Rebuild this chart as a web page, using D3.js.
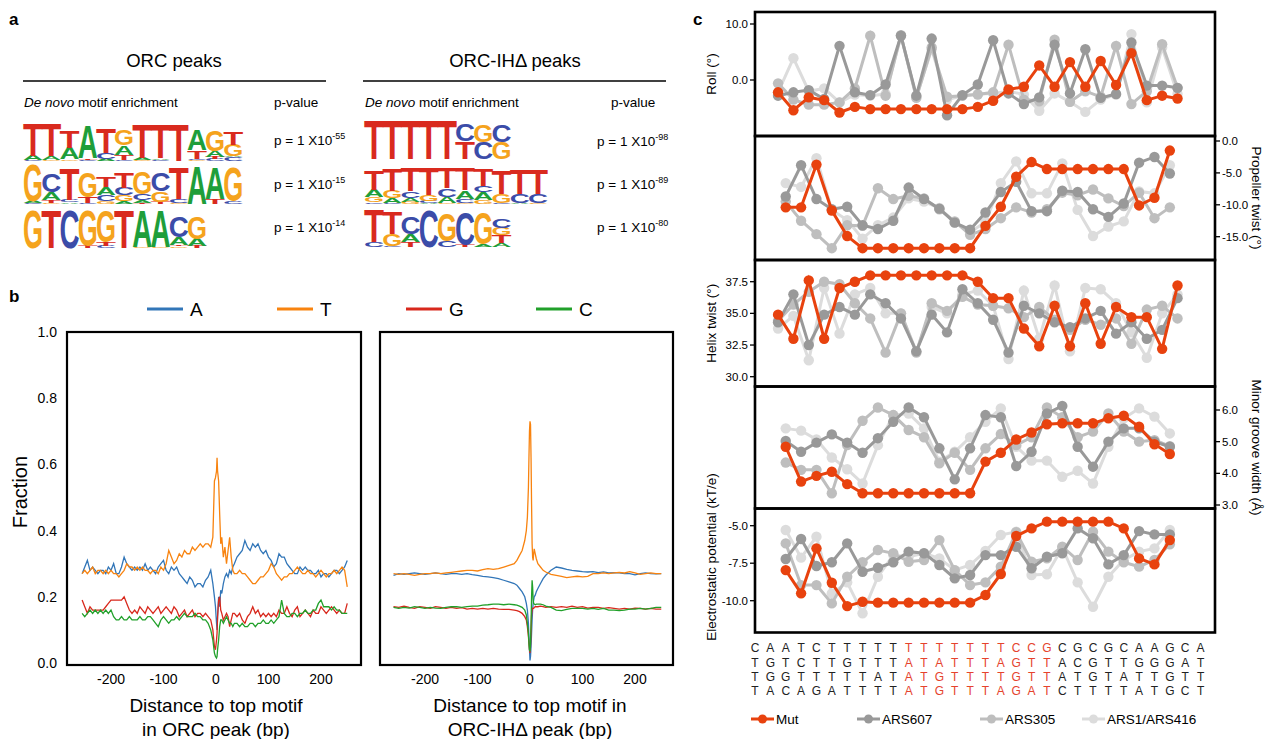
<!DOCTYPE html>
<html>
<head>
<meta charset="utf-8">
<script src="https://cdn.jsdelivr.net/npm/d3@7"></script>
<style>
body { margin: 0; background: #fff; }
svg { display: block; font-family: "Liberation Sans", Arial, sans-serif; }
</style>
</head>
<body>
<svg id="fig" width="1274" height="739"></svg>
<script>
// ---------- panel a: motif logos ----------
const logoColor = { A: "#1e9e3a", C: "#3b4ca8", G: "#f5a31d", T: "#d92a1e" };

const orcLogo1 = [
    [["C", 0.04], ["A", 0.22], ["T", 1.6]],
    [["G", 0.04], ["A", 0.18], ["T", 1.6]],
    [["G", 0.08], ["A", 0.55], ["T", 0.85]],
    [["C", 0.04], ["T", 0.08], ["A", 1.6]],
    [["A", 0.1], ["C", 0.3], ["T", 1.2]],
    [["C", 0.05], ["T", 0.25], ["A", 0.45], ["G", 0.75]],
    [["G", 0.04], ["A", 0.1], ["T", 1.65]],
    [["C", 0.04], ["A", 0.08], ["T", 1.65]],
    [["T", 1.75]],
    [["G", 0.06], ["C", 0.05], ["T", 0.4], ["A", 1.0]],
    [["C", 0.1], ["T", 0.1], ["A", 0.3], ["G", 1.0]],
    [["C", 0.18], ["A", 0.05], ["G", 0.55], ["T", 0.65]]
];
const orcLogo2 = [
    [["C", 0.05], ["A", 0.1], ["G", 1.75]],
    [["G", 0.05], ["T", 0.15], ["A", 0.35], ["C", 0.9]],
    [["A", 0.08], ["C", 0.1], ["T", 1.5]],
    [["C", 0.05], ["T", 0.3], ["G", 1.2]],
    [["G", 0.12], ["C", 0.3], ["A", 0.4], ["T", 0.5]],
    [["A", 0.12], ["G", 0.3], ["C", 0.35], ["T", 0.75]],
    [["T", 0.05], ["A", 0.15], ["C", 0.3], ["G", 1.05]],
    [["T", 0.1], ["G", 0.5], ["C", 0.9]],
    [["G", 0.05], ["C", 0.2], ["T", 1.5]],
    [["A", 1.85]],
    [["T", 0.25], ["A", 1.5]],
    [["C", 0.12], ["G", 1.65]]
];
const orcLogo3 = [
    [["G", 1.85]],
    [["T", 1.85]],
    [["C", 1.85]],
    [["T", 0.1], ["G", 1.7]],
    [["C", 0.1], ["T", 0.18], ["G", 1.5]],
    [["T", 1.85]],
    [["G", 0.05], ["A", 1.75]],
    [["G", 0.05], ["A", 1.75]],
    [["G", 0.08], ["T", 0.08], ["A", 0.35], ["C", 1.0]],
    [["T", 0.1], ["A", 0.35], ["G", 1.1]]
];
const ihLogo1 = [
    [["T", 1.9]], [["T", 1.9]], [["T", 1.9]], [["T", 1.9]], [["T", 1.9]],
    [["T", 0.85], ["C", 0.85]],
    [["C", 0.8], ["G", 0.85]],
    [["G", 0.8], ["C", 0.85]]
];
const ihLogo2 = [
    [["C", 0.08], ["G", 0.25], ["A", 0.35], ["T", 0.95]],
    [["C", 0.05], ["A", 0.22], ["G", 0.35], ["T", 1.1]],
    [["G", 0.1], ["A", 0.2], ["C", 0.3], ["T", 1.15]],
    [["A", 0.05], ["C", 0.1], ["G", 0.3], ["T", 1.3]],
    [["G", 0.05], ["A", 0.3], ["C", 0.4], ["T", 1.0]],
    [["G", 0.05], ["C", 0.2], ["A", 0.4], ["T", 1.05]],
    [["G", 0.2], ["A", 0.35], ["C", 0.3], ["T", 0.85]],
    [["C", 0.05], ["G", 0.45], ["T", 1.15]],
    [["A", 0.05], ["C", 0.45], ["T", 1.2]],
    [["G", 0.05], ["C", 0.45], ["T", 1.2]]
];
const ihLogo3 = [
    [["C", 0.22], ["T", 1.6]],
    [["C", 0.05], ["G", 0.55], ["T", 1.1]],
    [["T", 0.25], ["A", 0.35], ["C", 0.85]],
    [["C", 1.75]],
    [["C", 0.3], ["G", 1.3]],
    [["T", 0.1], ["C", 1.6]],
    [["A", 0.15], ["G", 1.5]],
    [["A", 0.2], ["T", 0.35], ["G", 0.35], ["C", 0.45]]
];
const orcPvals = ["-55", "-15", "-14"];
const ihPvals = ["-98", "-89", "-80"];

// ---------- panel b: base composition ----------
const baseNames = ["A", "T", "G", "C"];
const baseColors = ["#3276b8", "#f8830f", "#d8281c", "#21a02a"];
const fracTicks = [0, 0.2, 0.4, 0.6, 0.8, 1.0];
const distTicks = [-200, -100, 0, 100, 200];

const posOrc = [-255, -250, -245, -240, -235, -230, -225, -220, -215, -210, -205, -200, -195, -190, -185, -180, -175, -170, -165, -160,
    -155, -150, -145, -140, -135, -130, -125, -120, -115, -110, -105, -100, -95, -90, -85, -80, -75, -70, -65, -60,
    -55, -50, -45, -40, -35, -30, -25, -20, -15, -10,
    -6, -3, -1, 1, 2, 3, 5, 7, 9, 11, 14, 17, 20, 23, 26, 29, 32,
    35, 40, 45, 50, 55, 60, 65, 70, 75, 80, 85, 90, 95, 100, 105, 110, 115, 120, 125, 130,
    135, 140, 145, 150, 155, 160, 165, 170, 175, 180, 185, 190, 195, 200, 205, 210, 215, 220, 225, 230,
    235, 240, 245, 250];
const orcA = [0.27, 0.29, 0.31, 0.28, 0.29, 0.28, 0.27, 0.28, 0.28, 0.27, 0.29, 0.28, 0.30, 0.27, 0.27, 0.29, 0.32, 0.30, 0.29, 0.28,
    0.29, 0.28, 0.29, 0.28, 0.30, 0.28, 0.29, 0.28, 0.27, 0.29, 0.30, 0.31, 0.28, 0.27, 0.29, 0.28, 0.29, 0.27, 0.26, 0.25,
    0.24, 0.26, 0.25, 0.23, 0.24, 0.24, 0.23, 0.25, 0.26, 0.28,
    0.24, 0.20, 0.17, 0.12, 0.10, 0.14, 0.20, 0.17, 0.22, 0.21, 0.24, 0.26, 0.27, 0.26, 0.28, 0.27, 0.29,
    0.30, 0.32, 0.33, 0.34, 0.37, 0.35, 0.34, 0.36, 0.35, 0.36, 0.34, 0.33, 0.34, 0.32, 0.31, 0.29, 0.30, 0.33, 0.32, 0.32,
    0.30, 0.29, 0.28, 0.27, 0.27, 0.29, 0.28, 0.29, 0.28, 0.28, 0.27, 0.27, 0.28, 0.26, 0.27, 0.27, 0.26, 0.27, 0.28, 0.28,
    0.27, 0.28, 0.29, 0.31];
const orcT = [0.27, 0.28, 0.27, 0.28, 0.29, 0.27, 0.28, 0.28, 0.27, 0.28, 0.27, 0.28, 0.27, 0.27, 0.26, 0.27, 0.28, 0.30, 0.29, 0.29,
    0.28, 0.29, 0.28, 0.29, 0.28, 0.28, 0.27, 0.28, 0.28, 0.27, 0.29, 0.28, 0.30, 0.34, 0.32, 0.30, 0.31, 0.33, 0.32, 0.34,
    0.33, 0.33, 0.35, 0.34, 0.35, 0.36, 0.35, 0.36, 0.36, 0.35,
    0.38, 0.55, 0.56, 0.58, 0.62, 0.58, 0.55, 0.45, 0.36, 0.38, 0.32, 0.35, 0.30, 0.34, 0.38, 0.32, 0.28,
    0.27, 0.27, 0.28, 0.27, 0.27, 0.26, 0.25, 0.24, 0.24, 0.25, 0.26, 0.26, 0.27, 0.28, 0.30, 0.29, 0.27, 0.26, 0.25, 0.26,
    0.26, 0.27, 0.27, 0.28, 0.29, 0.28, 0.27, 0.27, 0.28, 0.27, 0.27, 0.26, 0.27, 0.28, 0.27, 0.26, 0.27, 0.27, 0.28, 0.27,
    0.28, 0.29, 0.28, 0.23];
const orcG = [0.19, 0.17, 0.15, 0.17, 0.16, 0.16, 0.16, 0.16, 0.16, 0.17, 0.18, 0.19, 0.19, 0.19, 0.19, 0.19, 0.20, 0.18, 0.16, 0.15,
    0.16, 0.15, 0.17, 0.16, 0.15, 0.17, 0.16, 0.15, 0.16, 0.17, 0.15, 0.16, 0.17, 0.16, 0.15, 0.17, 0.16, 0.14, 0.15, 0.16,
    0.14, 0.15, 0.16, 0.14, 0.15, 0.15, 0.14, 0.15, 0.14, 0.13,
    0.10, 0.05, 0.04, 0.07, 0.09, 0.14, 0.19, 0.20, 0.16, 0.15, 0.13, 0.14, 0.15, 0.14, 0.11, 0.13, 0.15,
    0.15, 0.14, 0.15, 0.13, 0.12, 0.14, 0.15, 0.17, 0.15, 0.16, 0.14, 0.15, 0.14, 0.15, 0.14, 0.15, 0.14, 0.16, 0.15, 0.15,
    0.17, 0.15, 0.14, 0.16, 0.17, 0.14, 0.15, 0.16, 0.15, 0.14, 0.16, 0.15, 0.15, 0.17, 0.16, 0.15, 0.16, 0.17, 0.16, 0.15,
    0.16, 0.15, 0.15, 0.18];
const orcC = [0.15, 0.14, 0.15, 0.16, 0.15, 0.16, 0.15, 0.16, 0.15, 0.16, 0.15, 0.16, 0.14, 0.13, 0.13, 0.14, 0.13, 0.13, 0.14, 0.13,
    0.13, 0.13, 0.14, 0.13, 0.13, 0.14, 0.14, 0.13, 0.12, 0.11, 0.13, 0.14, 0.13, 0.12, 0.13, 0.13, 0.14, 0.13, 0.14, 0.15,
    0.14, 0.14, 0.14, 0.15, 0.14, 0.14, 0.13, 0.13, 0.12, 0.10,
    0.07, 0.03, 0.02, 0.015, 0.02, 0.04, 0.07, 0.11, 0.13, 0.13, 0.12, 0.13, 0.14, 0.13, 0.12, 0.12, 0.11,
    0.12, 0.12, 0.11, 0.12, 0.11, 0.11, 0.12, 0.12, 0.11, 0.12, 0.12, 0.13, 0.12, 0.12, 0.13, 0.12, 0.13, 0.14, 0.19, 0.15,
    0.14, 0.14, 0.15, 0.15, 0.14, 0.15, 0.15, 0.16, 0.15, 0.15, 0.16, 0.16, 0.18, 0.19, 0.17, 0.17, 0.17, 0.16, 0.17, 0.16,
    0.16, 0.15, 0.15, 0.15];

const posIH = [-260, -250, -240, -230, -220, -210, -200, -190, -180, -170, -160, -150, -140, -130, -120, -110, -100, -90, -80, -70,
    -60, -50, -40, -30,
    -25, -20, -15, -10, -7, -5, -3, -2, -1, 0, 1, 2, 3, 4, 5, 6, 7, 8, 10, 12, 15, 20, 25, 30,
    40, 50, 60, 70, 80, 90, 100, 110, 120, 130, 140, 150, 160, 170, 180, 190, 200, 210, 220, 230, 240, 250];
const ihA = [0.265, 0.27, 0.268, 0.27, 0.272, 0.27, 0.268, 0.27, 0.272, 0.27, 0.268, 0.27, 0.27, 0.268, 0.27, 0.267, 0.265, 0.262, 0.26, 0.258,
    0.255, 0.25, 0.245, 0.24,
    0.235, 0.225, 0.215, 0.20, 0.18, 0.16, 0.12, 0.08, 0.04, 0.008, 0.02, 0.05, 0.09, 0.13, 0.16, 0.18, 0.19, 0.20, 0.205, 0.215, 0.225, 0.24, 0.255, 0.265,
    0.28, 0.29, 0.287, 0.283, 0.28, 0.278, 0.276, 0.275, 0.276, 0.273, 0.275, 0.272, 0.273, 0.272, 0.27, 0.27, 0.266, 0.27, 0.272, 0.27, 0.269, 0.27];
const ihT = [0.27, 0.268, 0.27, 0.268, 0.265, 0.268, 0.27, 0.27, 0.272, 0.27, 0.272, 0.274, 0.276, 0.278, 0.28, 0.28, 0.278, 0.282, 0.285, 0.283,
    0.285, 0.29, 0.295, 0.30,
    0.31, 0.325, 0.34, 0.37, 0.40, 0.44, 0.53, 0.62, 0.70, 0.73, 0.72, 0.62, 0.48, 0.36, 0.32, 0.31, 0.33, 0.345, 0.33, 0.315, 0.30, 0.29, 0.28, 0.275,
    0.268, 0.265, 0.262, 0.258, 0.26, 0.262, 0.26, 0.262, 0.27, 0.27, 0.272, 0.27, 0.272, 0.274, 0.272, 0.276, 0.272, 0.268, 0.27, 0.272, 0.27, 0.27];
const ihG = [0.17, 0.168, 0.172, 0.168, 0.165, 0.17, 0.168, 0.165, 0.17, 0.168, 0.165, 0.168, 0.165, 0.167, 0.163, 0.165, 0.163, 0.165, 0.163, 0.165,
    0.163, 0.162, 0.162, 0.16,
    0.158, 0.155, 0.15, 0.14, 0.13, 0.11, 0.08, 0.06, 0.04, 0.03, 0.05, 0.10, 0.145, 0.16, 0.165, 0.165, 0.165, 0.168, 0.17, 0.17, 0.17, 0.172, 0.17, 0.168,
    0.17, 0.168, 0.17, 0.168, 0.172, 0.168, 0.17, 0.166, 0.168, 0.168, 0.165, 0.167, 0.165, 0.163, 0.165, 0.163, 0.166, 0.165, 0.163, 0.165, 0.163, 0.163];
const ihC = [0.168, 0.165, 0.168, 0.166, 0.17, 0.168, 0.165, 0.168, 0.166, 0.165, 0.168, 0.17, 0.17, 0.168, 0.17, 0.172, 0.172, 0.175, 0.176, 0.178,
    0.178, 0.176, 0.178, 0.176,
    0.175, 0.172, 0.168, 0.16, 0.145, 0.12, 0.09, 0.06, 0.04, 0.035, 0.06, 0.12, 0.20, 0.25, 0.23, 0.19, 0.18, 0.178, 0.176, 0.178, 0.178, 0.178, 0.176, 0.172,
    0.168, 0.16, 0.158, 0.162, 0.165, 0.165, 0.165, 0.163, 0.165, 0.162, 0.165, 0.16, 0.16, 0.158, 0.16, 0.163, 0.163, 0.165, 0.163, 0.165, 0.168, 0.168];

// ---------- panel c: DNA shape ----------
const seqRows = [
    "CAATCTTTTTTTTTTTTCCGCGCGCAAGCA",
    "TGTCTTGTTTATATTTAGTTACGTTGGGAT",
    "TGGTTTTTATATGTTTTGTTATGTATTGTT",
    "TACAGATTTTATGTTTAGATCTTTTATGCT"
];
const shapeNames = ["ARS1/ARS416", "ARS305", "ARS607", "Mut"];
const shapeColors = ["#dcdcdc", "#bebebe", "#999999", "#e8420e"];
const stepPos = [1.5, 2.5, 3.5, 4.5, 5.5, 6.5, 7.5, 8.5, 9.5, 10.5, 11.5, 12.5, 13.5, 14.5, 15.5, 16.5, 17.5, 18.5, 19.5, 20.5,
    21.5, 22.5, 23.5, 24.5, 25.5, 26.5, 27.5];
const basePos = [2, 3, 4, 5, 6, 7, 8, 9, 10, 11, 12, 13, 14, 15, 16, 17, 18, 19, 20, 21, 22, 23, 24, 25, 26, 27];

const rollMut = [-2.2, -5.4, -3.1, -3.6, -5.8, -4.8, -5.2, -5.2, -5.2, -5.2, -5.2, -5.2, -5.2, -4.8, -3.7, -1.7, -1.2, 2.6, -1.2, 3.2, -1.2, 3.4, -0.9, 4.8, -3.6, -2.8, -3.3];
const roll607 = [-2.8, -2.2, -1.8, -3.4, 6.1, -2.2, -2.7, -0.8, 7.9, -2.8, 7.4, -6.3, -2.7, -0.8, 7.1, -2.4, -4.3, -3.1, 6.3, -2.4, 5.5, -3.2, -2.5, 6.7, -1.0, -1.0, -1.4];
const roll305 = [-0.6, -3.5, -4.4, -4.4, -4.0, -1.5, 7.9, -2.8, 8.0, -3.2, 5.8, -3.0, -2.8, -2.6, -2.2, 6.3, -3.5, -3.8, 7.2, -3.9, -2.0, -3.0, 6.1, -4.3, -2.0, 6.4, -1.4];
const roll1 = [-2.2, 3.9, -2.0, -1.5, -4.0, -2.6, -2.8, -2.5, 7.9, -3.0, 5.5, -3.5, -2.8, -2.5, -2.4, -2.0, -2.6, -5.5, -2.4, -3.9, -5.7, -3.5, -2.6, 8.2, -4.0, 5.8, -2.5];

const propMut = [-10.4, -10.4, -3.7, -10.9, -14.9, -16.8, -16.8, -16.8, -16.8, -16.8, -16.8, -16.8, -16.8, -13.3, -10.3, -5.6, -3.3, -4.4, -4.4, -4.4, -4.4, -4.4, -4.4, -10.1, -8.9, -1.5];
const prop607 = [-8.7, -3.8, -9.1, -10.7, -10.3, -13.2, -13.8, -12.5, -7.3, -9.1, -10.6, -12.8, -13.9, -11.2, -8.0, -6.4, -11.0, -11.0, -7.8, -8.0, -10.7, -11.9, -9.8, -3.4, -2.5, -5.1];
const prop305 = [-9.5, -12.5, -14.6, -16.8, -13.2, -13.3, -7.4, -9.1, -8.6, -9.0, -10.7, -12.6, -14.7, -13.8, -12.1, -10.4, -11.2, -10.7, -8.1, -8.5, -7.6, -9.0, -10.2, -8.1, -12.1, -10.4];
const prop1 = [-6.6, -7.2, -2.7, -10.8, -12.4, -15.3, -13.2, -12.0, -9.0, -9.5, -10.5, -12.8, -14.3, -12.7, -6.6, -3.2, -8.2, -8.2, -3.5, -10.8, -14.9, -13.4, -12.6, -7.9, -8.2, -3.8];

const helixMut = [34.9, 33.0, 37.6, 33.0, 37.0, 37.5, 38.0, 38.0, 38.0, 38.0, 38.0, 38.0, 38.0, 37.5, 36.2, 36.2, 33.8, 32.4, 35.6, 32.4, 35.8, 32.6, 35.5, 34.7, 34.7, 32.2, 37.2];
const helix607 = [34.3, 36.5, 32.5, 34.9, 35.5, 34.9, 36.5, 35.8, 34.6, 32.0, 34.9, 33.5, 36.9, 35.8, 34.5, 31.9, 35.6, 35.0, 34.3, 33.9, 34.6, 35.2, 33.4, 34.3, 33.0, 33.7, 36.2];
const helix305 = [34.4, 35.7, 36.7, 37.5, 37.3, 35.8, 34.6, 31.9, 35.0, 31.9, 35.8, 35.2, 36.3, 35.7, 35.6, 35.4, 34.7, 35.5, 34.5, 33.7, 34.5, 34.1, 34.6, 32.6, 35.3, 35.6, 34.6];
const helix1 = [33.8, 34.8, 31.3, 37.0, 33.4, 36.5, 37.0, 35.0, 35.0, 32.0, 35.5, 35.0, 36.5, 36.8, 35.6, 31.4, 36.8, 33.0, 37.2, 32.0, 37.0, 36.9, 35.8, 33.5, 31.5, 35.0, 36.5];

const mgwMut = [4.84, 3.74, 3.92, 4.05, 3.66, 3.37, 3.37, 3.37, 3.37, 3.37, 3.37, 3.37, 3.37, 4.37, 4.65, 5.07, 5.29, 5.55, 5.58, 5.58, 5.58, 5.74, 5.82, 5.47, 4.92, 4.61];
const mgw607 = [5.02, 4.68, 4.97, 5.23, 4.97, 4.65, 5.11, 5.63, 6.08, 5.77, 4.79, 3.81, 4.79, 5.84, 5.77, 4.23, 4.68, 5.89, 6.13, 4.84, 4.21, 5.0, 5.42, 5.42, 5.0, 4.84];
const mgw305 = [4.34, 4.11, 4.11, 3.37, 4.89, 5.66, 6.08, 5.84, 5.37, 5.14, 4.32, 4.65, 4.11, 4.79, 5.24, 4.89, 5.14, 6.08, 5.77, 5.14, 5.32, 5.89, 5.32, 5.0, 5.05, 4.86];
const mgw1 = [5.42, 5.35, 5.07, 4.5, 4.13, 3.68, 4.89, 5.84, 5.89, 5.42, 4.37, 4.68, 5.14, 5.63, 6.05, 4.84, 4.40, 4.40, 3.89, 4.08, 3.68, 4.84, 5.74, 6.05, 5.79, 5.26];

const epMut = [-7.96, -9.51, -6.51, -8.80, -10.36, -10.07, -10.13, -10.13, -10.13, -10.13, -10.13, -10.13, -10.13, -9.62, -8.22, -5.69, -5.18, -4.73, -4.73, -4.73, -4.73, -4.73, -5.18, -7.18, -7.58, -5.96];
const ep607 = [-7.22, -5.89, -7.69, -7.44, -6.18, -8.07, -7.80, -7.44, -6.73, -6.84, -7.62, -8.51, -8.29, -6.96, -6.96, -6.40, -7.84, -7.07, -6.84, -5.18, -5.84, -7.58, -6.96, -5.36, -5.58, -5.58];
const ep305 = [-6.18, -8.96, -8.96, -10.18, -8.40, -7.44, -6.62, -6.84, -7.40, -7.29, -5.96, -7.96, -8.96, -8.78, -7.73, -5.44, -7.40, -7.18, -6.40, -7.29, -5.40, -6.73, -7.44, -7.73, -7.29, -6.24];
const ep1 = [-5.29, -7.13, -5.73, -9.51, -8.78, -10.84, -8.40, -6.96, -7.07, -6.84, -7.18, -7.96, -7.62, -6.69, -5.62, -5.40, -8.29, -8.24, -6.47, -8.78, -10.40, -8.40, -7.29, -6.73, -6.51, -5.29];

// ======================================================================
const svg = d3.select("#fig");

function panelLetter(txt, x, y) {
    svg.append("text").attr("x", x).attr("y", y).text(txt)
        .attr("font-size", 17).attr("font-weight", "bold");
}

// ---------- draw panel a ----------
panelLetter("a", 9, 25);

function drawLogo(motif, x0, base) {
    const colW = 18.2, bitH = 21;
    const g = svg.append("g");
    motif.forEach((col, i) => {
        let y = base;
        col.forEach(([ch, bits]) => {
            const h = bits * bitH;
            const t = g.append("text").text(ch)
                .attr("font-size", 100).attr("font-weight", "bold")
                .attr("fill", logoColor[ch]);
            const w = t.node().getComputedTextLength();
            const sx = colW * 1.1 / w;
            t.attr("transform", `translate(${x0 + i * colW - colW * 0.05},${y}) scale(${sx},${h / 72})`);
            y -= h;
        });
    });
}

function drawMotifBlock(title, cx, lineX0, lineX1, textX, pX, pvX, logos, baselines, pvals, pvYs) {
    svg.append("text").attr("x", cx).attr("y", 67).attr("text-anchor", "middle")
        .attr("font-size", 18.5).text(title);
    svg.append("line").attr("x1", lineX0).attr("x2", lineX1).attr("y1", 81).attr("y2", 81)
        .attr("stroke", "#000").attr("stroke-width", 1.6);
    const hd = svg.append("text").attr("x", textX).attr("y", 107).attr("font-size", 13.5);
    hd.append("tspan").attr("font-style", "italic").text("De novo");
    hd.append("tspan").text(" motif enrichment");
    svg.append("text").attr("x", pX).attr("y", 107).attr("font-size", 13.5).text("p-value");
    logos.forEach((m, i) => drawLogo(m, textX, baselines[i]));
    pvals.forEach((p, i) => {
        const t = svg.append("text").attr("x", pvX).attr("y", pvYs[i]).attr("font-size", 13.5);
        t.append("tspan").text("p = 1 X10");
        t.append("tspan").attr("font-size", 9).attr("dy", -6).text(p);
    });
}

drawMotifBlock("ORC peaks", 174, 23, 326, 24, 274, 274,
    [orcLogo1, orcLogo2, orcLogo3], [161, 204, 248], orcPvals, [145, 189, 232]);
drawMotifBlock("ORC-IH\u0394 peaks", 515, 363, 666, 365, 611, 597,
    [ihLogo1, ihLogo2, ihLogo3], [159, 204, 247], ihPvals, [146, 189, 232]);

// ---------- draw panel b ----------
panelLetter("b", 9, 302);

const legendX = [147, 277, 406, 536];
baseNames.forEach((b, i) => {
    svg.append("line").attr("x1", legendX[i]).attr("x2", legendX[i] + 36)
        .attr("y1", 309).attr("y2", 309).attr("stroke", baseColors[i]).attr("stroke-width", 3);
    svg.append("text").attr("x", legendX[i] + 43).attr("y", 316).attr("font-size", 19).text(b);
});

const yF = d3.scaleLinear().domain([0, 1]).range([663, 332]);
const bPanels = [
    { x: d3.scaleLinear().domain([-200, 200]).range([111, 321]), box: [67, 361], pos: posOrc,
      series: [orcA, orcT, orcG, orcC], title: ["Distance to top motif", "in ORC peak (bp)"], yLabels: true },
    { x: d3.scaleLinear().domain([-200, 200]).range([425, 635]), box: [380, 673], pos: posIH,
      series: [ihA, ihT, ihG, ihC], title: ["Distance to top motif in", "ORC-IH\u0394 peak (bp)"], yLabels: false }
];

bPanels.forEach(p => {
    const g = svg.append("g");
    p.series.forEach((vals, si) => {
        const line = d3.line().x((d, i) => p.x(p.pos[i])).y(d => yF(d));
        g.append("path").datum(vals).attr("d", line)
            .attr("fill", "none").attr("stroke", baseColors[si]).attr("stroke-width", 1.3);
    });
    g.append("rect").attr("x", p.box[0]).attr("y", 332)
        .attr("width", p.box[1] - p.box[0]).attr("height", 333)
        .attr("fill", "none").attr("stroke", "#000").attr("stroke-width", 2.2);
    distTicks.forEach(t => {
        g.append("text").attr("x", p.x(t)).attr("y", 684).attr("text-anchor", "middle")
            .attr("font-size", 14).text(t);
    });
    if (p.yLabels) {
        fracTicks.forEach(t => {
            g.append("text").attr("x", 57).attr("y", yF(t) + 5).attr("text-anchor", "end")
                .attr("font-size", 14).text(t.toFixed(1));
        });
    }
    const cx = (p.x(0));
    g.append("text").attr("x", cx).attr("y", 712).attr("text-anchor", "middle")
        .attr("font-size", 19).text(p.title[0]);
    g.append("text").attr("x", cx).attr("y", 736).attr("text-anchor", "middle")
        .attr("font-size", 19).text(p.title[1]);
});

svg.append("text").attr("transform", "translate(27,492) rotate(-90)")
    .attr("text-anchor", "middle").attr("font-size", 20).text("Fraction");

// ---------- draw panel c ----------
panelLetter("c", 693, 25);

const xC = d3.scaleLinear().domain([0, 29.94]).range([755, 1215]);
const cPanels = [
    { top: 12, bottom: 136, y: d3.scaleLinear().domain([0, 10]).range([80, 24]), ticks: [0, 10],
      side: "left", label: "Roll (\u00b0)", pos: stepPos, series: [roll1, roll305, roll607, rollMut] },
    { top: 136, bottom: 260, y: d3.scaleLinear().domain([0, -15]).range([141, 236.7]), ticks: [0, -5, -10, -15],
      side: "right", label: "Propeller twist (\u00b0)", pos: basePos, series: [prop1, prop305, prop607, propMut] },
    { top: 260, bottom: 386.5, y: d3.scaleLinear().domain([30, 37.5]).range([376.7, 281.7]), ticks: [30, 32.5, 35, 37.5],
      side: "left", label: "Helix twist (\u00b0)", pos: stepPos, series: [helix1, helix305, helix607, helixMut] },
    { top: 386.5, bottom: 508.5, y: d3.scaleLinear().domain([3, 6]).range([505, 410]), ticks: [3, 4, 5, 6],
      side: "right", label: "Minor groove width (\u00c5)", pos: basePos, series: [mgw1, mgw305, mgw607, mgwMut] },
    { top: 508.5, bottom: 632.5, y: d3.scaleLinear().domain([-10, -5]).range([600.7, 525.7]), ticks: [-10, -7.5, -5],
      side: "left", label: "Electrostatic potential (kT/e)", pos: basePos, series: [ep1, ep305, ep607, epMut], labelY: 557 }
];

cPanels.forEach(p => {
    const g = svg.append("g");
    p.series.forEach((vals, si) => {
        const line = d3.line().x((d, i) => xC(p.pos[i])).y(d => p.y(d));
        g.append("path").datum(vals).attr("d", line).attr("fill", "none")
            .attr("stroke", shapeColors[si]).attr("stroke-width", 3);
        g.selectAll(null).data(vals).enter().append("circle")
            .attr("cx", (d, i) => xC(p.pos[i])).attr("cy", d => p.y(d)).attr("r", 5.2)
            .attr("fill", shapeColors[si]);
    });
    const left = p.side === "left";
    const ax = left ? 755 : 1215;
    p.ticks.forEach(t => {
        g.append("line").attr("x1", ax).attr("x2", left ? ax - 5 : ax + 5)
            .attr("y1", p.y(t)).attr("y2", p.y(t)).attr("stroke", "#000").attr("stroke-width", 1.3);
        g.append("text").attr("x", left ? ax - 7 : ax + 7).attr("y", p.y(t) + 4)
            .attr("text-anchor", left ? "end" : "start").attr("font-size", 11.5).text(t.toFixed(1));
    });
    const ly = p.labelY || (p.top + p.bottom) / 2;
    g.append("text")
        .attr("transform", left ? `translate(716,${ly}) rotate(-90)` : `translate(1252,${ly}) rotate(90)`)
        .attr("text-anchor", "middle").attr("font-size", 13.5).text(p.label);
});

cPanels.forEach(p => {
    svg.append("rect").attr("x", 755).attr("y", p.top).attr("width", 460).attr("height", p.bottom - p.top)
        .attr("fill", "none").attr("stroke", "#000").attr("stroke-width", 2.6);
});

const seqY = [652, 667, 681, 695];
seqRows.forEach((row, r) => {
    row.split("").forEach((ch, i) => {
        svg.append("text").attr("x", xC(i)).attr("y", seqY[r]).attr("text-anchor", "middle")
            .attr("font-size", 12).attr("fill", i >= 10 && i < 20 ? "#e5432d" : "#222").text(ch);
    });
});

const cLegendX = [751, 857, 980, 1082];
const cLegendOrder = [3, 2, 1, 0];
cLegendOrder.forEach((si, k) => {
    const x = cLegendX[k];
    svg.append("line").attr("x1", x).attr("x2", x + 23).attr("y1", 719).attr("y2", 719)
        .attr("stroke", shapeColors[si]).attr("stroke-width", 3);
    svg.append("circle").attr("cx", x + 11.5).attr("cy", 719).attr("r", 4.5).attr("fill", shapeColors[si]);
    svg.append("text").attr("x", x + 25).attr("y", 724).attr("font-size", 13.5).text(shapeNames[si]);
});
</script>
</body>
</html>
